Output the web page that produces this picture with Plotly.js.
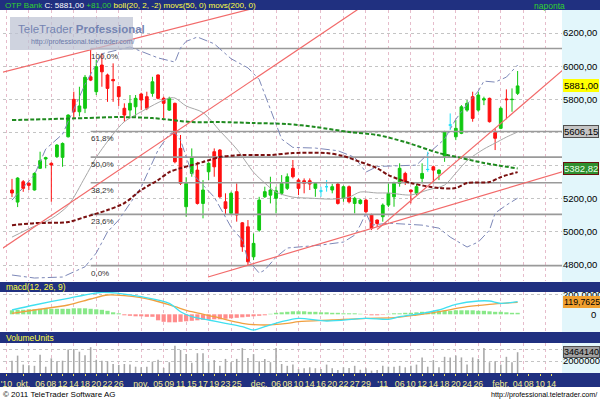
<!DOCTYPE html>
<html><head><meta charset="utf-8">
<script src="https://cdn.plot.ly/plotly-3.0.1.min.js"></script>
<style>html,body{margin:0;padding:0;background:#fff;overflow:hidden}#chart{width:600px;height:400px}</style>
</head><body><div id="chart"></div>
<script>
// ---------- DATA ----------
const days = ['2010-09-28','2010-09-29','2010-09-30',
'2010-10-01','2010-10-04','2010-10-05','2010-10-06','2010-10-07','2010-10-08','2010-10-11','2010-10-12','2010-10-13','2010-10-14','2010-10-15','2010-10-18','2010-10-19','2010-10-20','2010-10-21','2010-10-22','2010-10-25','2010-10-26','2010-10-27','2010-10-28','2010-10-29',
'2010-11-02','2010-11-03','2010-11-04','2010-11-05','2010-11-08','2010-11-09','2010-11-10','2010-11-11','2010-11-12','2010-11-15','2010-11-16','2010-11-17','2010-11-18','2010-11-19','2010-11-22','2010-11-23','2010-11-24','2010-11-25','2010-11-26','2010-11-29','2010-11-30',
'2010-12-01','2010-12-02','2010-12-03','2010-12-06','2010-12-07','2010-12-08','2010-12-09','2010-12-10','2010-12-13','2010-12-14','2010-12-15','2010-12-16','2010-12-17','2010-12-20','2010-12-21','2010-12-22','2010-12-23','2010-12-27','2010-12-28','2010-12-29','2010-12-30','2010-12-31',
'2011-01-03','2011-01-04','2011-01-05','2011-01-06','2011-01-07','2011-01-10','2011-01-11','2011-01-12','2011-01-13','2011-01-14','2011-01-17','2011-01-18','2011-01-19','2011-01-20','2011-01-21','2011-01-24','2011-01-25','2011-01-26','2011-01-27','2011-01-28','2011-01-31',
'2011-02-01','2011-02-02','2011-02-03','2011-02-04','2011-02-07','2011-02-08','2011-02-09','2011-02-10','2011-02-11','2011-02-14','2011-02-15'];

const tickDates = ['2010-09-28','2010-10-01','2010-10-06','2010-10-08','2010-10-12','2010-10-14','2010-10-18','2010-10-20','2010-10-22','2010-10-26','2010-11-02','2010-11-05','2010-11-09','2010-11-11','2010-11-15','2010-11-17','2010-11-19','2010-11-23','2010-11-25','2010-12-01','2010-12-06','2010-12-08','2010-12-10','2010-12-14','2010-12-16','2010-12-20','2010-12-22','2010-12-27','2010-12-29','2011-01-03','2011-01-06','2011-01-10','2011-01-12','2011-01-14','2011-01-18','2011-01-20','2011-01-24','2011-01-26','2011-02-01','2011-02-04','2011-02-08','2011-02-10','2011-02-14'];
const tickLabels = ["'10",'okt.','06','08','12','14','18','20','22','26','nov.','05','09','11','15','17','19','23','25','dec.','06','08','10','14','16','20','22','27','29',"'11",'06','10','12','14','18','20','24','26','febr.','04','08','10','14'];

const firstCandleDay = '2010-09-29';
const open  = [5253,5180,5303,5293,5253,5384,5440,5414,5454,5450,5574,5800,5725,5746,5936,5846,6007,5947,5920,5876,5746,5735,5755,5832,5816,5836,5947,5806,5735,5776,5504,5152,5353,5373,5172,5363,5484,5494,5182,5112,5243,5055,5031,4850,5011,5212,5222,5203,5233,5263,5384,5313,5309,5309,5263,5247,5273,5253,5289,5203,5273,5172,5172,5192,5102,5072,5092,5162,5212,5293,5353,5253,5233,5323,5377,5393,5353,5454,5645,5574,5595,5735,5816,5735,5796,5806,5599,5625,5802,5798,5836];
const high  = [5320,5330,5313,5303,5360,5484,5454,5420,5530,5540,5710,5846,5876,5947,6106,6037,6078,5955,6017,5880,5776,5826,5826,5840,5846,5936,5950,5816,5816,5780,5585,5330,5504,5423,5313,5420,5504,5500,5233,5243,5293,5060,5072,4991,5212,5273,5333,5273,5343,5353,5434,5323,5323,5323,5298,5273,5313,5290,5300,5280,5280,5212,5200,5200,5110,5075,5172,5293,5303,5414,5363,5255,5290,5414,5484,5400,5378,5610,5715,5675,5765,5796,5846,5846,5816,5810,5625,5756,5860,5866,5971];
const low   = [5210,5150,5242,5253,5250,5380,5384,5182,5446,5393,5570,5685,5697,5717,5910,5826,5876,5785,5785,5760,5665,5695,5695,5735,5735,5816,5800,5685,5730,5414,5283,5092,5333,5165,5082,5313,5333,5205,5102,5102,5062,4880,4797,4830,5001,5205,5172,5112,5222,5253,5323,5222,5233,5253,5212,5212,5243,5233,5165,5182,5172,5112,5165,5112,5011,5031,5062,5150,5152,5273,5283,5172,5222,5293,5363,5293,5313,5423,5615,5554,5590,5725,5665,5725,5765,5660,5494,5620,5680,5725,5826];
const close = [5235,5325,5263,5281,5353,5430,5448,5404,5524,5534,5705,5725,5760,5933,5916,5997,5966,5866,5912,5816,5705,5776,5806,5796,5746,5906,5806,5776,5806,5423,5293,5293,5450,5172,5253,5414,5393,5212,5142,5233,5102,4911,4820,4931,5192,5243,5253,5248,5293,5333,5333,5263,5293,5289,5293,5247,5273,5273,5172,5273,5182,5203,5192,5122,5022,5051,5162,5233,5293,5384,5303,5243,5273,5353,5377,5373,5373,5605,5645,5625,5755,5776,5685,5826,5803,5665,5565,5746,5798,5800,5881];
const volume = [2.06,2.9,1.4,1.3,1.2,3.05,1.05,2.45,1.95,2.05,3.9,4.0,3.55,2.95,4.3,2.2,2.05,1.95,1.5,1.35,1.5,1.4,1.05,0.95,1.05,1.9,2.2,0.85,1.8,4.55,3.85,3.15,1.7,3.3,3.3,1.8,2.15,1.2,2.35,1.8,2.35,4.15,2.5,3.15,1.95,2.35,1.8,4.15,1.5,1.2,1.4,0.65,0.8,0.95,0.8,0.65,1.4,0.8,0.5,0.95,0.85,1.2,0.55,0.8,0.4,0.5,1.2,1.05,1.05,1.2,0.95,1.2,1.4,2.6,1.05,2.15,0.95,2.7,2.6,2.9,2.6,1.4,2.6,2.35,4.15,1.8,1.95,1.4,2.7,1.8,3.46414].map(v => v * 1e6);
const macdHist = [40,45,45,50,50,55,55,55,55,55, 55,60,60,60,55,50,45,35,20,10, -10,-15,-20,-20,-25,-25,-60,-75,-80,-80, -75,-70,-65,-60,-55,-55,-50,-50,-45,-40, -35,-30,-25,-20,-15,-10,5,15,20,25, 30,30,30,25,25,20,20,15,15,10, 10,10,5,-5,-10,-10,-5,5,10,10, 15,15,20,25,25,30,30,35,35,40, 40,40,40,35,35,30,25,25,20,15,15];

// indicator readings: [trading-day index, value]
const bollUpper = [[1,5192],[5,5345],[7,5500],[10,5590],[12,5740],[14,5890],[17,6075],[22,6116],[27,6050],[30,6025],[31,6110],[32,6150],[34,6176],[37,6135],[40,6045],[43,5990],[45,5920],[47,5740],[49,5560],[51,5510],[55,5506],[59,5490],[62,5450],[64,5361],[66,5395],[73,5403],[75,5470],[78,5560],[80,5680],[82,5770],[84,5850],[85,5910],[87,5904],[89,5934],[91,6007]];
const bollMid = [[1,4969],[5,5035],[8,5080],[11,5160],[14,5330],[16,5450],[19,5590],[21,5665],[24,5725],[27,5780],[29,5808],[30,5808],[32,5760],[35,5720],[38,5610],[41,5500],[44,5360],[46,5295],[48,5240],[51,5210],[54,5204],[58,5198],[61,5210],[63,5241],[66,5235],[68,5235],[72,5223],[75,5253],[78,5283],[80,5355],[82,5430],[85,5500],[87,5536],[89,5572],[91,5603]];
const bollLower = [[1,4740],[5,4722],[10,4728],[14,4790],[16,4873],[18,5000],[20,5072],[24,5271],[27,5494],[29,5590],[30,5597],[31,5554],[33,5355],[37,5210],[40,5029],[42,4951],[43,4830],[45,4752],[46,4770],[48,4848],[50,4903],[52,4909],[56,4921],[60,4939],[62,4981],[63,5041],[64,5114],[65,5041],[68,5053],[74,5041],[77,5023],[79,4969],[82,4909],[84,4939],[86,5011],[87,5114],[89,5162],[91,5204]];
const ma50 = [[1,5041],[5,5053],[11,5060],[14,5090],[18,5132],[21,5174],[24,5253],[27,5313],[29,5361],[31,5385],[33,5403],[35,5422],[38,5452],[42,5464],[47,5464],[51,5476],[57,5476],[60,5458],[63,5422],[66,5385],[68,5343],[72,5295],[77,5265],[80,5265],[82,5295],[86,5301],[88,5331],[91,5361]];
const ma200 = [[1,5675],[8,5681],[14,5687],[20,5693],[26,5687],[33,5663],[38,5663],[44,5657],[50,5651],[55,5633],[61,5603],[66,5585],[71,5542],[77,5476],[81,5446],[85,5416],[91,5382.82]];
const macdLine = [[1,43],[5,93],[11,160],[17,220],[20,210],[24,176],[29,110],[31,26],[33,-24],[36,-57],[39,-90],[42,-124],[44,-157],[46,-124],[49,-74],[52,-40],[57,-67],[64,-40],[68,-50],[70,-24],[74,10],[77,43],[80,100],[84,133],[86,133],[88,110],[91,126]];
const signalLine = [[1,10],[5,43],[11,93],[15,153],[18,193],[21,186],[26,143],[30,76],[33,26],[37,-24],[42,-90],[46,-107],[50,-90],[52,-74],[58,-57],[64,-40],[69,-34],[73,-7],[77,26],[82,76],[86,100],[91,119.7625]];
const trendLines = [[[-1,5961],[60,6487]], [[-1,4894],[66,6421]], [[35.9,4728],[99,5363]], [[66,5015],[99,5975]]];
const fibHigh = 6106.3, fibLow = 4797, fibFromDay = '2010-10-19';
const fibRatios = [1, 0.618, 0.5, 0.382, 0.236, 0];
const fibLabels = ['100,0%','61,8%','50,0%','38,2%','23,6%','0,0%'];
const priceTicks = [4800,5000,5200,5400,5600,5800,6000,6200];

// ---------- BUILD ----------
const W = 600, H = 400;
const px = x => x / W, py = y => 1 - y / H;
const FN = '"Liberation Sans",Arial,sans-serif';
const fmt = (v, d) => v.toFixed(d).replace('.', ',');
const c0 = days.indexOf(firstCandleDay);
const cx = open.map((_, k) => c0 + k);

const groups = {up: [], down: [], flat: []};
open.forEach((o, k) => {
  const g = close[k] > o ? 'up' : (close[k] < o ? 'down' : 'flat');
  groups[g].push(k);
});
function candle(idx, col) {
  return {type:'candlestick', xaxis:'x', yaxis:'y',
    x: idx.map(k => cx[k]), open: idx.map(k => open[k]), high: idx.map(k => high[k]),
    low: idx.map(k => low[k]), close: idx.map(k => close[k]),
    increasing:{line:{color:col,width:1},fillcolor:col},
    decreasing:{line:{color:col,width:1},fillcolor:col},
    whiskerwidth:0, hoverinfo:'skip', showlegend:false};
}
function line(pts, ya, color, width, dash, shape) {
  return {type:'scatter', mode:'lines', xaxis:'x', yaxis:ya, x: pts.map(p => p[0]), y: pts.map(p => p[1]),
    line:{color, width, dash: dash || 'solid', shape: shape || 'linear', smoothing: 0.8}, hoverinfo:'skip', showlegend:false};
}
const fibStart = days.indexOf(fibFromDay);
const fibLevels = fibRatios.map(r => fibLow + r * (fibHigh - fibLow));

const traces = [];
fibLevels.forEach(v => traces.push(line([[fibStart, v], [days.length, v]], 'y', '#9a9a9a', 1.6)));
traces.push(line(bollUpper, 'y', '#7d88b8', 1, 'dashdot'));
traces.push(line(bollLower, 'y', '#7d88b8', 1, 'dashdot'));
traces.push(line(bollMid, 'y', '#a8a8a8', 1, 'solid', 'spline'));
traces.push(line(ma200, 'y', '#1f8a1f', 2, '4px,2px', 'spline'));
traces.push(line(ma50, 'y', '#7a1010', 2, '4px,2px', 'spline'));
trendLines.forEach(t => traces.push(line(t, 'y', '#f26a6a', 1.2)));
traces.push(candle(groups.up, '#10c810'));
traces.push(candle(groups.down, '#ff1010'));
traces.push(candle(groups.flat, '#20e0f8'));
// MACD
traces.push({type:'bar', xaxis:'x', yaxis:'y2', x: cx, y: macdHist, width: 0.75,
  marker:{color: macdHist.map(v => v >= 0 ? '#88e888' : '#ff8c8c'), line:{width:0}}, hoverinfo:'skip', showlegend:false});
traces.push(line(signalLine, 'y2', '#f0a040', 1.3, 'solid', 'spline'));
traces.push(line(macdLine, 'y2', '#40e0f0', 1.3, 'solid', 'spline'));
// Volume
traces.push({type:'bar', xaxis:'x', yaxis:'y3', x: cx, y: volume, width: 0.28,
  marker:{color:'#a8a8a8', line:{width:0}}, hoverinfo:'skip', showlegend:false});

const navy = '#203080';
const cyanBg = '#e2f6fb';
const rect = (x0, y0, x1, y1, fill, layer, lineCol) => ({type:'rect', xref:'paper', yref:'paper',
  x0: px(x0), x1: px(x1), y0: py(y1), y1: py(y0), fillcolor: fill, layer: layer || 'below',
  line:{width: lineCol ? 1 : 0, color: lineCol || fill}});

const shapes = [
  rect(0, 0, 600, 10, navy),
  rect(0, 282, 600, 292, navy),
  rect(0, 332, 600, 343, navy),
  rect(0, 373, 600, 387, navy),
  rect(562, 10, 600, 282, cyanBg),
  rect(562, 292, 600, 332, cyanBg),
  rect(562, 343, 600, 373, cyanBg),
  rect(10, 17, 133, 50, 'rgba(188,194,210,0.72)', 'above')
];

const lastC = close[close.length - 1], prevC = close[close.length - 2];
const ann = [];
const txt = (x, y, text, size, color, anchor, extra) => Object.assign({xref:'paper', yref:'paper', x: px(x), y: py(y),
  text, showarrow:false, xanchor: anchor || 'left', yanchor:'middle', font:{family:FN, size, color}}, extra || {});
ann.push(txt(3, 5.5, '<span style="color:#30d030">OTP Bank</span> <span style="color:#ffffff">C: ' + fmt(lastC,2) +
  '</span> <span style="color:#30d030">' + (lastC - prevC >= 0 ? '+' : '') + fmt(lastC - prevC, 2) +
  '</span> <span style="color:#ffff40">boll(20, 2, -2) movs(50, 0) movs(200, 0)</span>', 8.1, '#fff'));
ann.push(txt(532, 5.5, 'naponta', 8.5, '#30d030'));
ann.push(txt(4, 287, 'macd(12, 26, 9)', 8.5, '#ffff40'));
ann.push(txt(4, 337.5, 'VolumeUnits', 8.5, '#ffff40'));
ann.push(txt(1, 394, '© 2011 TeleTrader Software AG', 8, '#000'));
ann.push(txt(599, 394, 'http://professional.teletrader.com/', 7.2, '#000', 'right'));
ann.push(txt(16, 29, 'TeleTrader <b>Professional</b>', 11.5, '#7484b2'));
ann.push(txt(29, 41.5, 'http://professional.teletrader.com/', 7, '#6a78a8'));
// fib labels
fibLevels.forEach((v, k) => ann.push({xref:'x', yref:'y', x: fibStart, y: v, text: fibLabels[k], showarrow:false,
  xanchor:'left', yanchor:'top', yshift:-1, xshift:-2, font:{family:FN, size:8, color:'#303030'}}));
// value boxes on the right axis
const box = (yref, y, text, bg, fg, border, size) => ({xref:'paper', yref, x: px(563), y, text, showarrow:false,
  xanchor:'left', yanchor:'middle', bgcolor: bg, bordercolor: border || bg, borderwidth: 1, borderpad: 0,
  font:{family:FN, size: size || 9.5, color: fg}});
ann.push(box('y', lastC, fmt(lastC, 2), '#ffff00', '#000'));
ann.push(box('y', fibLevels[1], fmt(fibLevels[1], 2), '#c4c4c4', '#000', '#505050'));
ann.push(box('y', ma200[ma200.length - 1][1], fmt(ma200[ma200.length - 1][1], 2), '#2f8f2f', '#e8ffe8', '#6a1010'));
ann.push(box('y2', signalLine[signalLine.length - 1][1], fmt(signalLine[signalLine.length - 1][1], 4), '#f0a030', '#000', null, 8.8));
ann.push(box('y3', volume[volume.length - 1], String(Math.round(volume[volume.length - 1])), '#a0a0a0', '#000', '#505050', 9));
ann.push({xref:'paper', yref:'y2', x: 1, y: 0, text:'0', showarrow:false, xanchor:'right', yanchor:'middle', xshift:-2,
  font:{family:FN, size:9.5, color:'#000'}});

const yCommon = {side:'right', anchor:'x', zeroline:false, ticks:'', showline:false, fixedrange:true,
  tickfont:{family:FN, size:9.5, color:'#000'}, showgrid:true, gridcolor:'#c4c4c4', griddash:'dot', gridwidth:1};

const layout = {
  width: W, height: H, margin:{l:0, r:0, t:0, b:0}, paper_bgcolor:'#fff', plot_bgcolor:'#fff',
  showlegend:false, hovermode:false, dragmode:false,
  xaxis: {domain:[px(3), px(562)], anchor:'y3', type:'linear', range:[-0.6, 98.9],
    tickmode:'array', tickvals: tickDates.map(d => days.indexOf(d)), ticktext: tickLabels, tickangle: 0,
    ticks:'outside', ticklen:2, tickcolor:'#f0e060', tickfont:{family:FN, size:8.8, color:'#f4ec90'},
    showgrid:false, zeroline:false, showline:false, rangeslider:{visible:false}, fixedrange:true, automargin:false,
    minor:{tick0:0, dtick:4, showgrid:true, gridcolor:'#e6bccb', griddash:'dot', gridwidth:1, ticks:''}},
  yaxis: Object.assign({}, yCommon, {domain:[py(281), py(10)], range:[4704, 6339],
    tickmode:'array', tickvals: priceTicks, ticktext: priceTicks.map(v => fmt(v, 2))}),
  yaxis2: Object.assign({}, yCommon, {domain:[py(332), py(292)], range:[-177, 223],
    tickmode:'array', tickvals:[200], ticktext:['200,0000']}),
  yaxis3: Object.assign({}, yCommon, {domain:[py(373), py(343)], range:[0, 5e6],
    tickmode:'array', tickvals:[2e6, 4e6], ticktext:['2000000','4000000']}),
  shapes, annotations: ann, boxgap: 0.3
};
Plotly.newPlot('chart', traces, layout, {staticPlot:true, displayModeBar:false});
</script></body></html>
